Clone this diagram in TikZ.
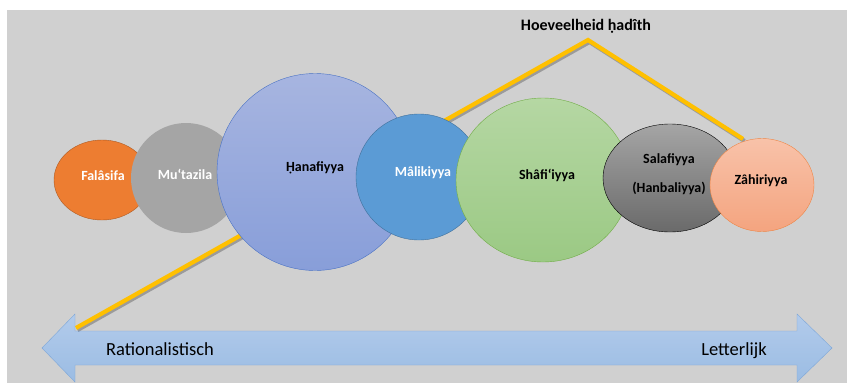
\documentclass[tikz,border=0pt]{standalone}
\usepackage{fontspec}
\setmainfont{Carlito}
\usetikzlibrary{shapes.geometric}
\definecolor{bggrey}{HTML}{D0D0D0}
\definecolor{hadithgold}{HTML}{FFC000}
\definecolor{arrowtop}{HTML}{B2CBEB}
\definecolor{arrowbot}{HTML}{9BBCE3}
\definecolor{arrowedge}{HTML}{7DA7D9}
\definecolor{falfill}{HTML}{ED7D31}
\definecolor{faledge}{HTML}{AE5A21}
\definecolor{mutfill}{HTML}{A5A5A5}
\definecolor{hantop}{HTML}{A7B5E0}
\definecolor{hanbot}{HTML}{889ED9}
\definecolor{hanedge}{HTML}{4A72C4}
\definecolor{malfill}{HTML}{5B9BD5}
\definecolor{maledge}{HTML}{41719C}
\definecolor{shatop}{HTML}{B5D7A3}
\definecolor{shabot}{HTML}{9BC984}
\definecolor{shaedge}{HTML}{71AD47}
\definecolor{saltop}{HTML}{A5A5A5}
\definecolor{salbot}{HTML}{6A6A6A}
\definecolor{zahtop}{HTML}{F8C2A9}
\definecolor{zahbot}{HTML}{F4A47F}
\definecolor{zahedge}{HTML}{EE8545}

\begin{document}
\begin{tikzpicture}[x=1pt, y=-1pt,
    school/.style={ellipse, inner sep=0pt},
    tag/.style={anchor=base, font=\bfseries\fontsize{14}{17}\selectfont},
    side/.style={anchor=base, font=\fontsize{18.5}{22}\selectfont},
    hadith/.style={hadithgold, line width=4.2pt, line join=miter}]

    \useasboundingbox (0,0) rectangle (854,386);
    \fill[bggrey] (7,10) rectangle (847,383);

    % spectrum
    \draw[arrowedge, top color=arrowtop, bottom color=arrowbot]
        (42,348) -- (75,314) -- (75,331) -- (797,331) -- (797,314) -- (832,348)
        -- (797,382) -- (797,365) -- (75,365) -- (75,382) -- cycle;
    \node[side] (rat) at (160,355) {Rationalistisch};
    \node[side] (let) at (734,355) {Letterlijk};

    % amount of hadith
    \coordinate (lo) at (76,328);
    \coordinate (peak) at (588,40);
    \coordinate (hi) at (743,139);
    \draw[hadith, black, opacity=.25, transform canvas={shift={(1.5pt,-2pt)}}] (lo) -- (peak) -- (hi);
    \draw[hadith] (lo) -- (peak) -- (hi);
    \node[anchor=base, font=\bfseries\fontsize{16}{19}\selectfont] (title) at (586,30) {Hoeveelheid ḥadîth};

    % schools
    \node[school, fill=falfill, draw=faledge, minimum width=96pt, minimum height=80pt] (fal) at (102,180) {};
    \node[school, fill=mutfill, minimum width=110pt, minimum height=110pt] (mut) at (186,178) {};
    \node[school, top color=hantop, bottom color=hanbot, draw=hanedge, minimum width=196pt, minimum height=197pt] (han) at (315,172) {};
    \node[school, fill=malfill, draw=maledge, minimum width=126pt, minimum height=126pt] (mal) at (419,177) {};
    \node[school, top color=shatop, bottom color=shabot, draw=shaedge, minimum width=174pt, minimum height=164pt] (sha) at (543,180) {};
    \node[school, top color=saltop, bottom color=salbot, draw=black, minimum width=134pt, minimum height=108pt] (sal) at (670,178) {};
    \node[school, top color=zahtop, bottom color=zahbot, draw=zahedge, minimum width=104pt, minimum height=93pt] (zah) at (762,185) {};

    \node[tag, white] (fal-t) at (103,180) {Falâsifa};
    \node[tag, white] (mut-t) at (185,179) {Mu‘tazila};
    \node[tag] (han-t) at (315,171) {Ḥanafiyya};
    \node[tag, white] (mal-t) at (423,176) {Mâlikiyya};
    \node[tag] (sha-t) at (547,179) {Shâfi‘iyya};
    \node[tag] (sal-t) at (669,163) {Salafiyya};
    \node[tag] (han2-t) at (669,192) {(Hanbaliyya)};
    \node[tag] (zah-t) at (761,184) {Zâhiriyya};

\end{tikzpicture}
\end{document}
